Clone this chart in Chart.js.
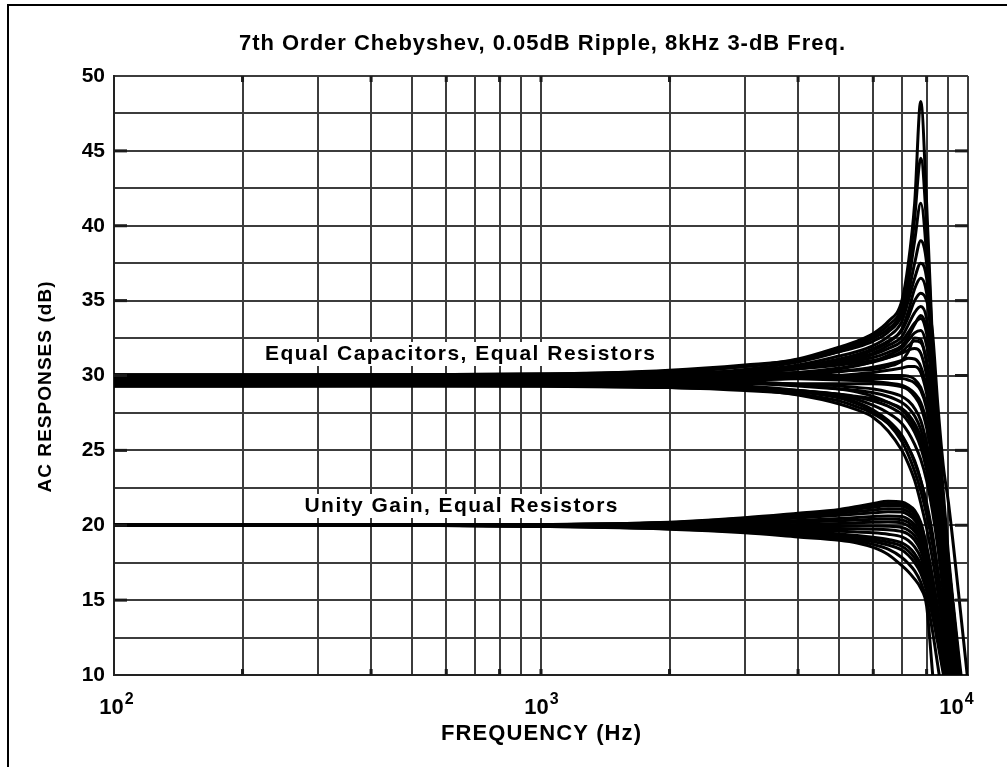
<!DOCTYPE html>
<html>
<head>
<meta charset="utf-8">
<title>7th Order Chebyshev</title>
<script src="https://cdn.jsdelivr.net/npm/chart.js@4.4.1/dist/chart.umd.min.js"></script>
<style>
  html, body { margin: 0; padding: 0; background: #fff; }
  canvas { display: block; }
</style>
</head>
<body>
<canvas id="myChart" width="1007" height="767"></canvas>
<script>
const freqHz = [100, 200, 500, 1000, 2000, 3000, 4000, 5000, 5500, 6000, 6500, 7000, 7250, 7500, 7750, 8000, 8250, 8500, 8750, 9000, 9500, 10000]

// vertical grid lines (Hz)
const xGridHz = [100, 200, 300, 400, 500, 600, 700, 800, 900, 1000, 2000, 3000, 4000, 5000, 6000, 7000, 8000, 9000, 10000]
const xLabelHz = [100, 1000, 10000]
const xMarkHz = [200, 400, 600, 800, 1000, 2000, 4000, 6000, 8000]
const yMarkDb = [15, 20, 25, 30, 35, 40, 45]

// Equal Capacitors, Equal Resistors (dB)
const ec01 = [29.8, 29.8, 29.85, 29.95, 30.2, 30.6, 31.1, 31.9, 32.3, 32.8, 33.6, 35.0, 37.5, 41.5, 48.3, 41.5, 32.5, 25.5, 19.5, 15.0, 8.0, 3.0]
const ec02 = [29.9, 29.9, 29.95, 30.05, 30.35, 30.7, 31.05, 31.75, 32.15, 32.65, 33.35, 34.6, 36.8, 40.5, 44.5, 40.0, 32.0, 25.0, 19.5, 15.0, 8.0, 3.0]
const ec03 = [29.6, 29.6, 29.65, 29.75, 30.0, 30.4, 30.9, 31.6, 32.0, 32.5, 33.1, 34.3, 36.2, 39.0, 41.5, 38.0, 31.0, 24.5, 19.0, 14.5, 8.0, 3.0]
const ec04 = [30.0, 30.0, 30.05, 30.1, 30.3, 30.6, 31.0, 31.6, 31.9, 32.3, 32.9, 34.0, 35.5, 37.5, 39.0, 37.5, 32.0, 25.5, 20.0, 15.5, 9.0, 4.0]
const ec05 = [29.7, 29.7, 29.7, 29.8, 30.0, 30.3, 30.7, 31.3, 31.6, 32.0, 32.6, 33.6, 35.0, 36.5, 37.5, 36.5, 32.0, 26.0, 20.5, 16.0, 9.5, 4.0]
const ec06 = [29.5, 29.5, 29.55, 29.6, 29.85, 30.15, 30.5, 31.0, 31.3, 31.7, 32.2, 33.1, 34.3, 35.8, 36.5, 35.5, 31.5, 26.0, 21.0, 16.5, 10.0, 5.0]
const ec07 = [29.8, 29.8, 29.8, 29.9, 30.05, 30.3, 30.6, 31.1, 31.4, 31.8, 32.3, 33.0, 33.9, 35.0, 35.5, 35.0, 33.0, 28.0, 24.0, 21.5, 15.5, 9.5]
const ec08 = [29.6, 29.6, 29.6, 29.7, 29.9, 30.15, 30.45, 30.9, 31.2, 31.5, 32.0, 32.6, 33.4, 34.2, 34.6, 33.8, 30.5, 26.0, 21.5, 17.5, 11.0, 5.5]
const ec09 = [29.9, 29.9, 29.9, 29.95, 30.1, 30.3, 30.5, 30.9, 31.1, 31.4, 31.8, 32.3, 32.9, 33.5, 33.8, 32.8, 30.0, 26.0, 21.5, 17.5, 11.0, 5.5]
const ec10 = [29.3, 29.3, 29.35, 29.4, 29.6, 29.85, 30.1, 30.45, 30.65, 30.95, 31.35, 31.85, 32.35, 32.85, 33.0, 32.0, 29.5, 25.5, 21.0, 17.0, 10.5, 5.0]
const ec11 = [29.7, 29.7, 29.7, 29.75, 29.85, 30.0, 30.2, 30.5, 30.7, 30.9, 31.2, 31.6, 32.0, 32.3, 32.2, 31.0, 28.5, 25.0, 20.5, 16.5, 10.0, 4.5]
const ec12 = [30.05, 30.05, 30.05, 30.1, 30.15, 30.3, 30.45, 30.7, 30.85, 31.0, 31.2, 31.5, 31.7, 31.8, 31.5, 30.0, 27.5, 24.0, 20.0, 16.0, 9.5, 4.0]
const ec13 = [29.5, 29.5, 29.5, 29.55, 29.6, 29.7, 29.8, 30.0, 30.1, 30.2, 30.35, 30.5, 30.6, 30.6, 30.2, 28.8, 26.5, 23.0, 19.0, 15.5, 9.0, 4.0]
const ec14 = [29.8, 29.8, 29.8, 29.8, 29.8, 29.8, 29.8, 29.8, 29.8, 29.8, 29.8, 29.8, 29.7, 29.5, 29.0, 27.8, 25.5, 22.5, 18.5, 15.0, 8.5, 3.5]
const ec15 = [29.6, 29.6, 29.6, 29.6, 29.55, 29.5, 29.4, 29.3, 29.2, 29.1, 28.9, 28.6, 28.3, 27.8, 27.0, 25.5, 23.5, 20.5, 17.0, 14.0, 8.0, 3.0]
const ec16 = [29.9, 29.9, 29.9, 29.85, 29.75, 29.6, 29.4, 29.1, 28.9, 28.6, 28.2, 27.7, 27.2, 26.5, 25.5, 24.0, 22.0, 19.5, 16.5, 13.5, 7.5, 3.0]
const ec17 = [29.5, 29.5, 29.5, 29.45, 29.35, 29.2, 29.0, 28.7, 28.4, 28.0, 27.5, 26.8, 26.2, 25.4, 24.4, 23.0, 21.0, 18.5, 15.5, 12.5, 7.0, 2.5]
const ec18 = [29.7, 29.7, 29.7, 29.65, 29.5, 29.3, 29.0, 28.6, 28.2, 27.7, 27.0, 26.0, 25.2, 24.2, 23.0, 21.5, 19.5, 17.0, 14.5, 12.0, 6.5, 2.0]
const ec19 = [29.3, 29.3, 29.3, 29.3, 29.2, 29.1, 28.9, 28.5, 28.1, 27.6, 26.8, 25.6, 24.7, 23.6, 22.3, 20.7, 18.8, 16.5, 14.0, 11.5, 6.0, 2.0]
const ec20 = [29.6, 29.6, 29.6, 29.5, 29.3, 29.1, 28.7, 28.1, 27.7, 27.2, 26.3, 25.0, 24.1, 23.0, 21.5, 19.8, 17.8, 15.5, 13.0, 10.5, 5.5, 1.5]
const ec21 = [29.65, 29.65, 29.65, 29.7, 29.78, 29.9, 30.05, 30.25, 30.4, 30.55, 30.75, 31.0, 31.15, 31.1, 30.6, 29.2, 26.8, 23.5, 19.5, 16.0, 9.5, 4.0]
const ec22 = [29.9, 29.9, 29.9, 29.92, 29.95, 29.97, 30.0, 30.0, 30.0, 30.0, 30.0, 30.0, 29.95, 29.75, 29.2, 28.0, 25.8, 22.8, 19.0, 15.5, 9.0, 3.5]
const ec23 = [29.4, 29.4, 29.4, 29.42, 29.45, 29.45, 29.45, 29.45, 29.45, 29.45, 29.4, 29.25, 29.05, 28.6, 27.9, 26.5, 24.3, 21.3, 17.8, 14.5, 8.3, 3.0]
const ec24 = [29.8, 29.8, 29.8, 29.75, 29.65, 29.5, 29.3, 29.1, 29.0, 28.85, 28.6, 28.2, 27.85, 27.3, 26.4, 24.8, 22.7, 20.0, 16.8, 13.8, 7.8, 3.0]
const ec25 = [29.5, 29.5, 29.5, 29.45, 29.35, 29.2, 29.0, 28.75, 28.55, 28.3, 27.95, 27.4, 26.9, 26.2, 25.2, 23.7, 21.6, 19.0, 16.0, 13.0, 7.3, 2.5]
const ec26 = [29.4, 29.4, 29.4, 29.35, 29.2, 29.0, 28.75, 28.3, 27.9, 27.45, 26.8, 25.9, 25.2, 24.3, 23.0, 21.3, 19.2, 16.8, 14.2, 11.7, 6.2, 2.0]
const ec27 = [29.7, 29.7, 29.72, 29.8, 29.97, 30.2, 30.45, 30.8, 31.0, 31.2, 31.55, 32.0, 32.6, 33.4, 34.0, 33.2, 30.8, 26.8, 22.3, 18.0, 11.5, 6.0]
const ec28 = [30.0, 30.0, 30.0, 29.98, 29.92, 29.85, 29.78, 29.7, 29.65, 29.6, 29.5, 29.35, 29.15, 28.8, 28.2, 26.9, 24.8, 21.8, 18.2, 15.0, 8.6, 3.5]
const ec29 = [29.3, 29.3, 29.3, 29.28, 29.2, 29.1, 28.95, 28.75, 28.6, 28.45, 28.2, 27.8, 27.4, 26.8, 25.9, 24.4, 22.4, 19.8, 16.7, 13.7, 7.6, 2.5]
const ec30 = [30.05, 30.05, 30.05, 30.08, 30.1, 30.15, 30.2, 30.3, 30.35, 30.4, 30.6, 31.0, 31.6, 32.5, 32.4, 30.8, 28.2, 24.8, 20.8, 16.8, 10.2, 4.5]

// Unity Gain, Equal Resistors (dB)
const ug01 = [20.0, 20.0, 20.0, 20.05, 20.2, 20.5, 20.8, 21.05, 21.25, 21.45, 21.6, 21.55, 21.35, 21.0, 20.2, 18.6, 16.6, 14.4, 12.0, 9.5, 4.5, 0]
const ug02 = [20.0, 20.0, 20.0, 20.04, 20.16, 20.42, 20.68, 20.92, 21.07, 21.2, 21.3, 21.28, 21.1, 20.75, 20.0, 18.4, 16.4, 14.2, 11.8, 9.3, 4.4, 0]
const ug03 = [20.0, 20.0, 20.0, 20.03, 20.12, 20.35, 20.58, 20.8, 20.92, 21.02, 21.1, 21.08, 20.9, 20.55, 19.8, 18.2, 16.2, 14.0, 11.6, 9.1, 4.3, 0]
const ug04 = [20.0, 20.0, 20.0, 20.02, 20.08, 20.28, 20.48, 20.66, 20.75, 20.83, 20.9, 20.88, 20.7, 20.35, 19.6, 18.0, 16.0, 13.8, 11.4, 9.0, 4.2, 0]
const ug05 = [20.0, 20.0, 20.0, 20.0, 20.04, 20.18, 20.32, 20.45, 20.52, 20.58, 20.62, 20.58, 20.4, 20.05, 19.35, 17.8, 15.8, 13.6, 11.2, 8.8, 4.1, 0]
const ug06 = [20.0, 20.0, 20.0, 20.0, 19.98, 20.0, 20.05, 20.12, 20.16, 20.2, 20.22, 20.15, 19.95, 19.6, 18.9, 17.5, 15.6, 13.4, 11.1, 8.7, 4.0, 0]
const ug07 = [20.0, 20.0, 20.0, 19.98, 19.92, 19.85, 19.8, 19.78, 19.76, 19.74, 19.7, 19.58, 19.4, 19.0, 18.3, 17.0, 15.2, 13.1, 10.9, 8.6, 4.0, 0]
const ug08 = [20.0, 20.0, 20.0, 19.96, 19.86, 19.72, 19.58, 19.42, 19.32, 19.2, 19.05, 18.82, 18.55, 18.1, 17.4, 16.2, 14.6, 12.7, 10.6, 8.4, 3.8, 0]
const ug09 = [20.0, 20.0, 20.0, 19.95, 19.8, 19.62, 19.42, 19.2, 19.06, 18.9, 18.68, 18.35, 18.0, 17.5, 16.8, 15.6, 14.0, 12.1, 10.1, 8.0, 3.5, 0]
const ug10 = [20.0, 20.0, 20.0, 19.93, 19.77, 19.56, 19.32, 19.1, 18.94, 18.72, 18.4, 17.85, 17.45, 16.95, 16.2, 15.0, 13.0, 10.6, 8.2, 5.8, 1.5, 0]
const ug11 = [20.0, 20.0, 20.0, 19.92, 19.74, 19.5, 19.22, 19.0, 18.82, 18.52, 18.05, 17.3, 16.9, 16.4, 15.8, 14.6, 10.3, 6.0, 3.0, 1.0, 0, 0]
const ug12 = [20.0, 20.0, 20.0, 20.0, 20.02, 20.1, 20.2, 20.3, 20.35, 20.4, 20.42, 20.36, 20.18, 19.82, 19.12, 17.65, 15.7, 13.5, 11.15, 8.75, 4.0, 0]
const ug13 = [20.0, 20.0, 20.0, 19.99, 19.95, 19.93, 19.93, 19.94, 19.95, 19.95, 19.94, 19.85, 19.67, 19.3, 18.6, 17.25, 15.4, 13.25, 11.0, 8.6, 4.0, 0]
const ug14 = [20.0, 20.0, 20.0, 19.97, 19.89, 19.78, 19.68, 19.6, 19.55, 19.5, 19.4, 19.22, 18.98, 18.55, 17.85, 16.6, 14.9, 12.9, 10.75, 8.5, 3.9, 0]
const ug15 = [20.0, 20.0, 20.0, 19.95, 19.83, 19.67, 19.5, 19.31, 19.18, 19.05, 18.87, 18.6, 18.28, 17.8, 17.1, 15.9, 14.3, 12.4, 10.35, 8.2, 3.6, 0]
const ug16 = [20.0, 20.0, 20.0, 20.04, 20.18, 20.46, 20.74, 20.98, 21.15, 21.32, 21.45, 21.42, 21.22, 20.88, 20.1, 18.5, 16.5, 14.3, 11.9, 9.4, 4.4, 0]

const equalCapCurves = [ec01, ec02, ec03, ec04, ec05, ec06, ec07, ec08, ec09, ec10, ec11, ec12, ec13, ec14, ec15, ec16, ec17, ec18, ec19, ec20,
    ec21, ec22, ec23, ec24, ec25, ec26, ec27, ec28, ec29, ec30]
const unityGainCurves = [ug01, ug02, ug03, ug04, ug05, ug06, ug07, ug08, ug09, ug10, ug11, ug12, ug13, ug14, ug15, ug16]

const FONT = "'Liberation Sans', Arial, Helvetica, sans-serif"

function makeDataset(values, name) {
    return {
        label: name,
        data: values.map((v, i) => ({ x: freqHz[i], y: v })),
        borderColor: '#000',
        borderWidth: 3,
        pointRadius: 0,
        fill: false,
        cubicInterpolationMode: 'monotone'
    }
}

let datasets = []
for (let i = 0; i < equalCapCurves.length; i++) {
    datasets.push(makeDataset(equalCapCurves[i], 'Equal Capacitors ' + (i + 1)))
}
for (let i = 0; i < unityGainCurves.length; i++) {
    datasets.push(makeDataset(unityGainCurves[i], 'Unity Gain ' + (i + 1)))
}

// draw text stretched to the width it has in the picture
function fitText(ctx, text, cx, cy, font, width) {
    ctx.font = font
    ctx.letterSpacing = '0px'
    const w = ctx.measureText(text).width
    const ls = (width - w) / (text.length - 1)
    ctx.letterSpacing = ls + 'px'
    ctx.textAlign = 'left'
    ctx.textBaseline = 'middle'
    ctx.fillText(text, cx - width / 2, cy)
    ctx.letterSpacing = '0px'
}

const decorations = {
    id: 'decorations',
    beforeDraw(chart) {
        const ctx = chart.ctx
        ctx.save()
        ctx.fillStyle = '#fff'
        ctx.fillRect(0, 0, chart.width, chart.height)
        ctx.fillStyle = '#000'
        ctx.fillRect(7, 4, 2, chart.height - 4)
        ctx.fillRect(7, 4, chart.width - 7, 2)
        ctx.restore()
    },
    afterDraw(chart) {
        const ctx = chart.ctx
        const area = chart.chartArea
        const xs = chart.scales.x
        const ys = chart.scales.y
        ctx.save()
        ctx.fillStyle = '#1a1a1a'

        // short heavy marks on the frame
        for (const v of yMarkDb) {
            const py = ys.getPixelForValue(v)
            ctx.fillRect(area.left, py - 1.5, 13, 3)
            ctx.fillRect(area.right - 13, py - 1.5, 13, 3)
        }
        for (const v of xMarkHz) {
            const px = xs.getPixelForValue(v)
            ctx.fillRect(px - 1.5, area.bottom - 6, 3, 6)
            ctx.fillRect(px - 1.5, area.top, 3, 6)
        }

        ctx.fillStyle = '#000'
        // decade labels 10^n
        const shifts = [2, 0, -12]
        xLabelHz.forEach((v, i) => {
            const px = xs.getPixelForValue(v)
            const exp = String(Math.round(Math.log10(v)))
            ctx.font = 'bold 22px ' + FONT
            const wBase = ctx.measureText('10').width
            ctx.font = 'bold 16px ' + FONT
            const wExp = ctx.measureText(exp).width
            const x0 = px - (wBase + wExp) / 2 + shifts[i]
            ctx.textAlign = 'left'
            ctx.textBaseline = 'alphabetic'
            ctx.font = 'bold 22px ' + FONT
            ctx.fillText('10', x0, 714)
            ctx.font = 'bold 16px ' + FONT
            ctx.fillText(exp, x0 + wBase + 1, 704)
        })

        fitText(ctx, '7th Order Chebyshev, 0.05dB Ripple, 8kHz 3-dB Freq.', 542, 44, 'bold 22px ' + FONT, 606)
        fitText(ctx, 'FREQUENCY (Hz)', 541, 734, 'bold 22px ' + FONT, 200)

        ctx.save()
        ctx.translate(46, 387)
        ctx.rotate(-Math.PI / 2)
        fitText(ctx, 'AC RESPONSES (dB)', 0, 0, 'bold 19px ' + FONT, 211)
        ctx.restore()

        // curve family labels on white
        ctx.fillStyle = '#fff'
        ctx.fillRect(460 - 199, 354 - 12, 398, 24)
        ctx.fillRect(461 - 161, 506 - 12, 322, 24)
        ctx.fillStyle = '#000'
        fitText(ctx, 'Equal Capacitors, Equal Resistors', 460, 354, 'bold 21px ' + FONT, 390)
        fitText(ctx, 'Unity Gain, Equal Resistors', 461, 506, 'bold 21px ' + FONT, 313)
        ctx.restore()
    }
}

const ctx = document.getElementById('myChart').getContext('2d')
const myChart = new Chart(ctx, {
    type: 'line',
    data: { datasets: datasets },
    options: {
        responsive: false,
        animation: false,
        devicePixelRatio: 1,
        layout: { padding: { top: 76, right: 39, bottom: 0, left: 0 } },
        plugins: {
            legend: { display: false },
            tooltip: { enabled: false },
            title: { display: false }
        },
        scales: {
            x: {
                type: 'logarithmic',
                min: 100,
                max: 10000,
                afterBuildTicks: (scale) => {
                    scale.ticks = xGridHz.map(v => ({ value: v }))
                },
                afterFit: (scale) => { scale.height = 92 },
                ticks: { display: false },
                grid: { color: '#3c3c3c', lineWidth: 2, drawTicks: false },
                border: { display: true, color: '#222', width: 2 }
            },
            y: {
                type: 'linear',
                min: 10,
                max: 50,
                afterFit: (scale) => { scale.width = 114 },
                ticks: {
                    stepSize: 2.5,
                    autoSkip: false,
                    padding: 9,
                    color: '#000',
                    font: { family: FONT, weight: 'bold', size: 21 },
                    callback: (v) => (v % 5 === 0 ? String(v) : '')
                },
                grid: { color: '#3c3c3c', lineWidth: 2, drawTicks: false },
                border: { display: true, color: '#222', width: 2 }
            }
        }
    },
    plugins: [decorations]
})
</script>
</body>
</html>
